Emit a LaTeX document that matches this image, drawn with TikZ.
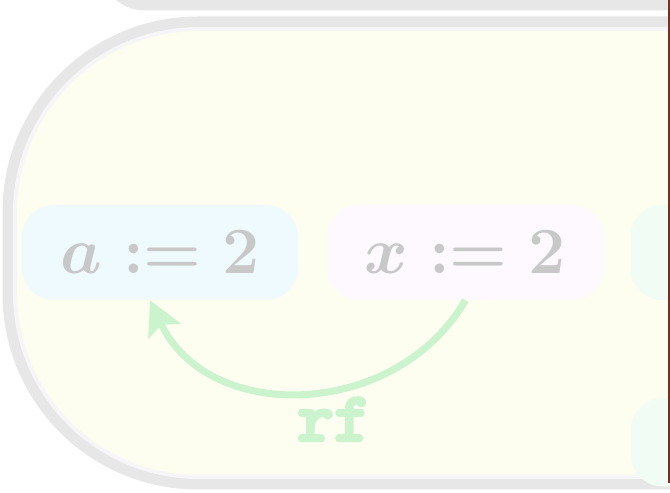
\RequirePackage{fix-cm}
\documentclass[tikz,border=0pt]{standalone}
\usepackage{amsmath,amssymb}
\usepackage{fontspec}
\usepackage{xcolor}
\usepackage{tikz}
\usetikzlibrary{arrows.meta,positioning}
\newfontfamily\relfont{lmmonolt10-bold.otf}[FakeBold=4]
\definecolor{DeepGray}{HTML}{C8C8C8}
\definecolor{SoftCream}{HTML}{FDFDF0}
\definecolor{RimGray}{HTML}{E7E7E7}
\definecolor{RimLight}{HTML}{F6F6F9}
\definecolor{SoftCyan}{HTML}{EEFAFE}
\definecolor{SoftPink}{HTML}{FDF9FE}
\definecolor{SoftMint}{HTML}{F0FCF4}
\definecolor{EdgeGreen}{HTML}{CAF3CE}
\definecolor{DeepRed}{HTML}{7A2E20}
\tikzset{
  cyanbox/.style={fill=SoftCyan,rounded corners=32pt,minimum width=276pt,minimum height=95pt,
              inner sep=0pt,text=DeepGray,font=\fontsize{66}{70}\selectfont\boldmath},
  pinkbox/.style={fill=SoftPink,rounded corners=32pt,minimum width=276pt,minimum height=95pt,
              inner sep=0pt,text=DeepGray,font=\fontsize{66}{70}\selectfont\boldmath},
  mintbox/.style={fill=SoftMint,rounded corners=32pt,minimum width=276pt,minimum height=95pt,
              inner sep=0pt,text=DeepGray,font=\fontsize{66}{70}\selectfont\boldmath},
  rim/.style={draw=RimGray,line width=11pt},
  innerrim/.style={draw=RimLight,line width=4pt},
  rf/.style={-{Stealth[length=34pt,width=35pt,inset=7pt]},line width=7pt,draw=EdgeGreen},
  rflabel/.style={font=\relfont\fontsize{70}{72}\selectfont,text=EdgeGreen,inner sep=0pt}
}
\begin{document}
\begin{tikzpicture}[x=1pt,y=1pt,node distance=29pt and 29pt]
  \useasboundingbox (0,0) rectangle (670,493);
  \clip (0,0) rectangle (670,493);
  \filldraw[fill=SoftCream,rim,rounded corners=40pt] (105,488) rectangle (1100,900);
  \filldraw[fill=SoftCream,rim,rounded corners=190pt] (8,9) rectangle (1100,471);
  \draw[innerrim,rounded corners=184pt] (15,16) rectangle (1100,464);

  \node[cyanbox] (assignA) at (160,240.5) {$a := 2$};
  \node[pinkbox,right=of assignA] (assignX) {$x := 2$};
  \node[mintbox,right=27pt of assignX] (nextA) {};
  \node[mintbox,below=98pt of nextA,minimum height=88pt] (nextB) {};

  \draw[rf] (assignX.south) to[out=-120,in=-65,looseness=1.12]
    node[rflabel,pos=0.42,below=5pt]{rf} ([xshift=-10pt]assignA.south);

  \draw[DeepRed,line width=2pt] (668.5,493) -- (668.5,10);
\end{tikzpicture}
\end{document}
